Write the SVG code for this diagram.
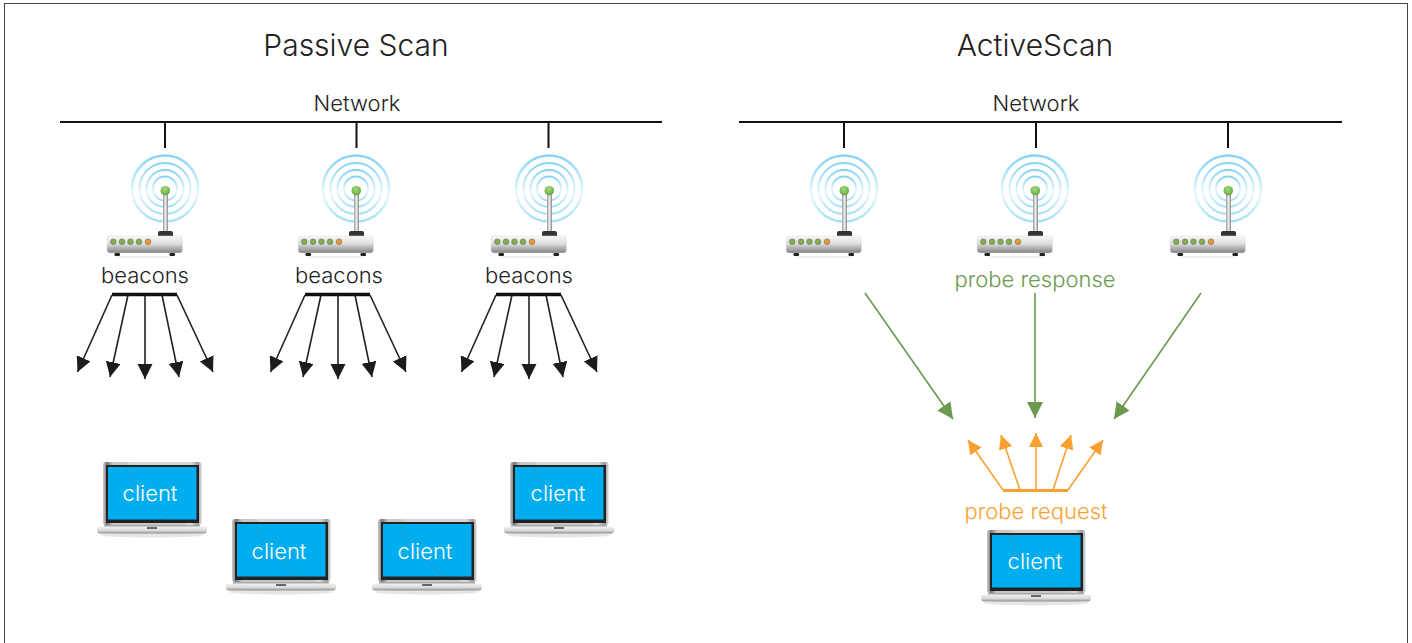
<svg xmlns="http://www.w3.org/2000/svg" xmlns:xlink="http://www.w3.org/1999/xlink" width="1412" height="643" viewBox="0 0 1412 643">
<style>
text{font-family:"Inter","Liberation Sans",sans-serif;font-weight:300;text-anchor:middle;fill:#222}
.t{font-size:30px}.n{font-size:22px}.b{font-size:22px}.c{font-size:22px;fill:#fff}
.net{stroke:#111;stroke-width:2;fill:none}
.bk{stroke:#222;stroke-width:1.6;fill:none;marker-end:url(#ab)}
.bar{stroke:#111;stroke-width:3.5}
.gr{stroke:#6a994f;stroke-width:1.6;fill:none;marker-end:url(#ag)}
.or{stroke:#f8a131;stroke-width:1.6;fill:none;marker-end:url(#ao)}
.ring{fill:none;stroke:url(#rg)}
</style>
<defs>
<marker id="ab" markerUnits="userSpaceOnUse" markerWidth="16" markerHeight="16" refX="15" refY="7.5" orient="auto"><path d="M0 0L15 7.5L0 15z" fill="#1c1c1c"/></marker>
<marker id="ag" markerUnits="userSpaceOnUse" markerWidth="18" markerHeight="18" refX="16" refY="8" orient="auto"><path d="M0 0L16 8L0 16z" fill="#6a994f"/></marker>
<marker id="ao" markerUnits="userSpaceOnUse" markerWidth="16" markerHeight="16" refX="14" refY="7" orient="auto"><path d="M0 0L14 7L0 14z" fill="#f8a131"/></marker>
<linearGradient id="rg" x1="0" y1="0" x2="0" y2="1"><stop offset="0" stop-color="#86d3f6"/><stop offset=".6" stop-color="#e8f7fd"/><stop offset="1" stop-color="#a5dff8"/></linearGradient>
<linearGradient id="body" x1="0" y1="0" x2="0" y2="1"><stop offset="0" stop-color="#f8f8f8"/><stop offset=".45" stop-color="#dedede"/><stop offset="1" stop-color="#808080"/></linearGradient>
<linearGradient id="mast" x1="0" y1="0" x2="1" y2="0"><stop offset="0" stop-color="#999"/><stop offset=".5" stop-color="#eee"/><stop offset="1" stop-color="#888"/></linearGradient>
<radialGradient id="ball" cx=".45" cy=".35" r=".7"><stop offset="0" stop-color="#a4dc7c"/><stop offset="1" stop-color="#5da53a"/></radialGradient>
<linearGradient id="frame" x1="0" y1="0" x2="1" y2="0"><stop offset="0" stop-color="#ccc"/><stop offset=".04" stop-color="#777"/><stop offset=".1" stop-color="#c8c8c8"/><stop offset=".9" stop-color="#c8c8c8"/><stop offset=".96" stop-color="#777"/><stop offset="1" stop-color="#ccc"/></linearGradient>
<linearGradient id="lbase" x1="0" y1="0" x2="0" y2="1"><stop offset="0" stop-color="#f2f2f2"/><stop offset=".6" stop-color="#d8d8d8"/><stop offset="1" stop-color="#8c8c8c"/></linearGradient>
<g id="router">
<g stroke-width="2"><circle class="ring" cx="58" cy="48.500" r="33" stroke-width="2.500"/><circle class="ring" cx="58" cy="48.500" r="25.500"/><circle class="ring" cx="58" cy="48.500" r="18.500"/><circle class="ring" cx="58" cy="48.500" r="12"/></g>
<rect x="56" y="54" width="5" height="40" fill="url(#mast)"/>
<circle cx="58.300" cy="50.700" r="4.800" fill="url(#ball)"/>
<path d="M51 96v-3q0-2 2-2h11q2 0 2 2v3z" fill="#333"/>
<rect x="0" y="96" width="75.500" height="17" rx="3" fill="url(#body)" stroke="#ddd" stroke-width=".5"/>
<rect x="7.500" y="113" width="5.500" height="3" rx="1" fill="#222"/><rect x="62.500" y="113" width="5.500" height="3" rx="1" fill="#222"/>
<ellipse cx="38" cy="117" rx="30" ry="1" fill="#eee"/>
<g fill="#7fb04a" stroke="#666" stroke-width=".6"><circle cx="6.300" cy="101.700" r="2.800"/><circle cx="15" cy="101.700" r="2.800"/><circle cx="23.500" cy="101.700" r="2.800"/><circle cx="32" cy="101.700" r="2.800"/><circle cx="41" cy="101.700" r="2.800" fill="#f09a2c"/></g>
</g>
<g id="laptop">
<ellipse cx="55" cy="73" rx="52" ry="2.500" fill="#e6e6e6"/>
<rect x="6" y="0" width="98.500" height="63" rx="3" fill="url(#frame)"/>
<path d="M30 0H101.500q3 0 3 3V63H90z" fill="#fff" opacity=".25"/>
<rect x="9" y="3" width="93" height="58" fill="#222"/>
<rect x="11" y="5" width="88.500" height="52.500" fill="#00aeef"/>
<path d="M28 5Q38 30 72 57.500" fill="none" stroke="#3f95b8" stroke-width=".7"/>
<rect x="7" y="63" width="96" height="2" fill="#aaa"/>
<path d="M2 64.500H108q2 0 2 2V68q0 3.500-3 3.500H3q-3 0-3-3.500v-1.500q0-2 2-2z" fill="url(#lbase)"/>
<rect x="50" y="65" width="10" height="2" fill="#666"/>
</g>
</defs>
<rect id="frame-border" x="4.500" y="3.500" width="1403" height="650" fill="#fff" stroke="#444" stroke-width="1"/>
<g id="titles">
<text class="t" x="356" y="56">Passive Scan</text>
<text class="t" x="1035" y="56">ActiveScan</text>
</g>
<g id="connectors">
<path class="net" d="M60 122H662M165 122V148M356.500 122V148M548.500 122V148M739 122H1342M844 122V148M1036 122V148M1228 122V148"/>
<g id="beacons1"><path class="bar" d="M112 294.500H177"/>
<path class="bk" d="M112 295L77.500 372"/><path class="bk" d="M128 295L110 377"/><path class="bk" d="M145 295V379"/><path class="bk" d="M162 295L179 377"/><path class="bk" d="M177 295L213 372"/></g>
<g id="beacons2"><path class="bar" d="M305 294.500H370"/>
<path class="bk" d="M305 295L270.500 372"/><path class="bk" d="M321 295L303 377"/><path class="bk" d="M338 295V379"/><path class="bk" d="M355 295L372 377"/><path class="bk" d="M370 295L406 372"/></g>
<g id="beacons3"><path class="bar" d="M496 294.500H561"/>
<path class="bk" d="M496 295L461.500 372"/><path class="bk" d="M512 295L494 377"/><path class="bk" d="M529 295V379"/><path class="bk" d="M546 295L563 377"/><path class="bk" d="M561 295L597 372"/></g>
<g id="response"><path class="gr" d="M865 293L953 419"/><path class="gr" d="M1035 293V418"/><path class="gr" d="M1201 293L1114 419"/></g>
<g id="request"><path stroke="#f8a131" stroke-width="3" d="M1003 490.500H1068"/>
<path class="or" d="M1003 490L968 440"/><path class="or" d="M1020 490L1001 435"/><path class="or" d="M1036 490V433"/><path class="or" d="M1053 490L1071 435"/><path class="or" d="M1068 490L1103 440"/></g>
</g>
<g id="router-p1"><use xlink:href="#router" href="#router" x="107" y="140"/></g>
<g id="router-p2"><use xlink:href="#router" href="#router" x="298" y="140"/></g>
<g id="router-p3"><use xlink:href="#router" href="#router" x="491" y="140"/></g>
<g id="router-a1"><use xlink:href="#router" href="#router" x="786" y="140"/></g>
<g id="router-a2"><use xlink:href="#router" href="#router" x="977" y="140"/></g>
<g id="router-a3"><use xlink:href="#router" href="#router" x="1170" y="140"/></g>
<g id="labels">
<text class="n" x="357" y="110.500">Network</text>
<text class="n" x="1036" y="110.500">Network</text>
<text class="b" x="145" y="282.500">beacons</text>
<text class="b" x="339" y="282.500">beacons</text>
<text class="b" x="529" y="282.500">beacons</text>
<text class="n" x="1035" y="287" style="fill:#6a994f">probe response</text>
<text class="n" x="1036" y="519" style="fill:#f8a131">probe request</text>
</g>
<g id="client-1"><use xlink:href="#laptop" href="#laptop" x="97" y="462"/><text class="c" x="150" y="501">client</text></g>
<g id="client-2"><use xlink:href="#laptop" href="#laptop" x="226" y="519"/><text class="c" x="279" y="558.500">client</text></g>
<g id="client-3"><use xlink:href="#laptop" href="#laptop" x="372" y="519"/><text class="c" x="425" y="558.500">client</text></g>
<g id="client-4"><use xlink:href="#laptop" href="#laptop" x="504" y="462"/><text class="c" x="558" y="501">client</text></g>
<g id="client-a"><use xlink:href="#laptop" href="#laptop" x="981" y="530"/><text class="c" x="1035" y="569">client</text></g>
</svg>
